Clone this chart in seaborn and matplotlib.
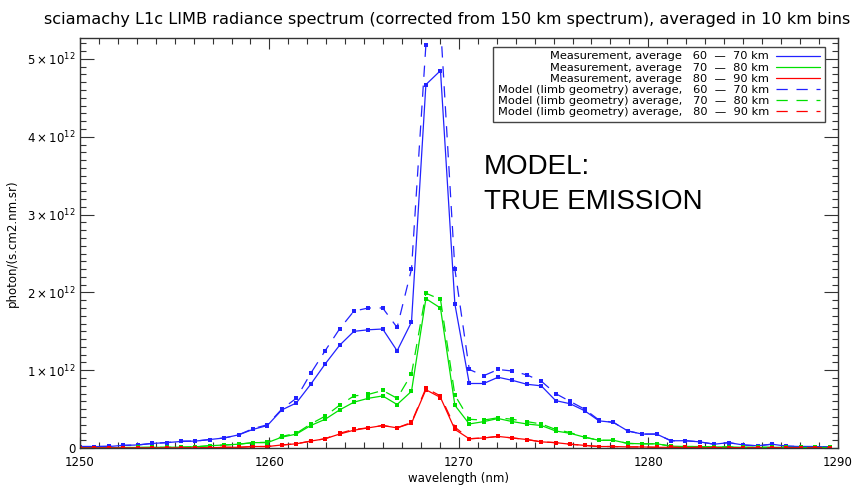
import matplotlib
matplotlib.use("Agg")
import matplotlib.pyplot as plt
import seaborn as sns
import pandas as pd
from matplotlib.ticker import MultipleLocator, FuncFormatter

# wavelength grid (nm)
wavelength = [1250.00, 1250.76, 1251.52, 1252.28, 1253.04, 1253.81, 1254.57, 1255.33, 1256.09, 1256.85,
              1257.61, 1258.37, 1259.13, 1259.89, 1260.65, 1261.42, 1262.18, 1262.94, 1263.70, 1264.46,
              1265.22, 1265.98, 1266.74, 1267.50, 1268.26, 1269.03, 1269.79, 1270.55, 1271.31, 1272.07,
              1272.83, 1273.59, 1274.35, 1275.11, 1275.87, 1276.64, 1277.40, 1278.16, 1278.92, 1279.68,
              1280.44, 1281.20, 1281.96, 1282.72, 1283.48, 1284.25, 1285.01, 1285.77, 1286.53, 1287.29,
              1288.05, 1288.81, 1289.57]

# radiances in units of 1e12 photon/(s.cm2.nm.sr)
meas_60_70 = [0.02, 0.02, 0.02, 0.035, 0.04, 0.06, 0.07, 0.085, 0.09, 0.11,
              0.13, 0.17, 0.24, 0.29, 0.49, 0.58, 0.82, 1.08, 1.32, 1.50,
              1.52, 1.53, 1.25, 1.62, 4.67, 4.85, 1.85, 0.83, 0.83, 0.91,
              0.87, 0.82, 0.80, 0.61, 0.57, 0.48, 0.35, 0.33, 0.22, 0.18,
              0.18, 0.094, 0.095, 0.08, 0.05, 0.07, 0.04, 0.03, 0.05, 0.025,
              0.02, 0.02, 0.015]
meas_70_80 = [0.005, 0.005, 0.005, 0.007, 0.008, 0.01, 0.01, 0.012, 0.017, 0.03,
              0.04, 0.05, 0.07, 0.07, 0.14, 0.18, 0.29, 0.37, 0.49, 0.59,
              0.64, 0.67, 0.56, 0.73, 1.92, 1.80, 0.55, 0.31, 0.34, 0.38,
              0.34, 0.31, 0.29, 0.22, 0.19, 0.14, 0.10, 0.10, 0.06, 0.055,
              0.055, 0.025, 0.02, 0.02, 0.015, 0.015, 0.01, 0.01, 0.01, 0.01,
              0.008, 0.008, 0.008]
meas_80_90 = [0.003, 0.003, 0.003, 0.003, 0.003, 0.003, 0.003, 0.003, 0.004, 0.005,
              0.01, 0.01, 0.02, 0.02, 0.04, 0.055, 0.09, 0.12, 0.18, 0.23,
              0.26, 0.29, 0.26, 0.32, 0.75, 0.65, 0.24, 0.12, 0.13, 0.15,
              0.13, 0.11, 0.08, 0.07, 0.05, 0.035, 0.02, 0.02, 0.015, 0.015,
              0.01, 0.01, 0.008, 0.008, 0.006, 0.006, 0.005, 0.005, 0.005, 0.005,
              0.005, 0.005, 0.005]
model_60_70 = [0.02, 0.02, 0.025, 0.035, 0.04, 0.06, 0.07, 0.09, 0.09, 0.11,
               0.13, 0.17, 0.25, 0.30, 0.50, 0.64, 0.96, 1.25, 1.53, 1.76,
               1.80, 1.80, 1.55, 2.30, 5.18, 5.45, 2.30, 1.01, 0.93, 1.01,
               0.99, 0.94, 0.86, 0.70, 0.60, 0.50, 0.36, 0.33, 0.22, 0.18,
               0.18, 0.094, 0.095, 0.08, 0.05, 0.07, 0.04, 0.03, 0.05, 0.025,
               0.02, 0.02, 0.015]
model_70_80 = [0.005, 0.005, 0.005, 0.007, 0.008, 0.01, 0.01, 0.012, 0.017, 0.03,
               0.04, 0.05, 0.07, 0.075, 0.15, 0.19, 0.31, 0.41, 0.55, 0.67,
               0.69, 0.74, 0.64, 0.95, 1.99, 1.91, 0.68, 0.37, 0.36, 0.39,
               0.37, 0.34, 0.31, 0.24, 0.20, 0.14, 0.10, 0.10, 0.06, 0.055,
               0.055, 0.025, 0.02, 0.02, 0.015, 0.015, 0.01, 0.01, 0.01, 0.01,
               0.008, 0.008, 0.008]
model_80_90 = [0.003, 0.003, 0.003, 0.003, 0.003, 0.003, 0.003, 0.003, 0.004, 0.005,
               0.01, 0.01, 0.02, 0.02, 0.04, 0.055, 0.09, 0.12, 0.19, 0.24,
               0.26, 0.29, 0.26, 0.33, 0.77, 0.67, 0.27, 0.12, 0.13, 0.15,
               0.13, 0.11, 0.08, 0.07, 0.05, 0.035, 0.02, 0.02, 0.015, 0.015,
               0.01, 0.01, 0.008, 0.008, 0.006, 0.006, 0.005, 0.005, 0.005, 0.005,
               0.005, 0.005, 0.005]

labels = ["Measurement, average   60  \u2014  70 km",
          "Measurement, average   70  \u2014  80 km",
          "Measurement, average   80  \u2014  90 km",
          "Model (limb geometry) average,   60  \u2014  70 km",
          "Model (limb geometry) average,   70  \u2014  80 km",
          "Model (limb geometry) average,   80  \u2014  90 km"]
series = [meas_60_70, meas_70_80, meas_80_90, model_60_70, model_70_80, model_80_90]
colors = ["#2222ff", "#00e000", "#ff0000", "#2222ff", "#00e000", "#ff0000"]

sns.set_style("ticks")
plt.rcParams["font.family"] = ["DejaVu Sans"]
plt.rcParams["mathtext.fontset"] = "dejavusans"
plt.rcParams["text.color"] = "black"
plt.rcParams["axes.labelcolor"] = "black"
plt.rcParams["xtick.labelcolor"] = "black"
plt.rcParams["ytick.labelcolor"] = "black"

fig = plt.figure(figsize=(8.63, 4.86), dpi=100)
ax = fig.add_axes([0.0927, 0.078, 0.878, 0.844])

for i, (vals, lab, col) in enumerate(zip(series, labels, colors)):
    df = pd.DataFrame({"wl": wavelength, "rad": [v * 1e12 for v in vals]})
    ls = "-" if i < 3 else (0, (9, 7))
    sns.lineplot(data=df, x="wl", y="rad", ax=ax, color=col, lw=0.9, linestyle=ls,
                 marker="s", markersize=2.6, markeredgewidth=0, label=lab,
                 estimator=None, sort=False)

ax.set_xlim(1250, 1290)
ax.set_ylim(0, 5.27e12)
ax.xaxis.set_major_locator(MultipleLocator(10))
ax.xaxis.set_minor_locator(MultipleLocator(1))
ax.yaxis.set_major_locator(MultipleLocator(1e12))
ax.yaxis.set_minor_locator(MultipleLocator(1e11))


def yfmt(v, pos):
    n = int(round(v / 1e12))
    return "0" if n == 0 else r"$%d\times10^{12}$" % n


ax.yaxis.set_major_formatter(FuncFormatter(yfmt))
ax.tick_params(which="both", direction="in", top=True, right=True, labelsize=8.5,
               color="#333333", width=0.8)
ax.tick_params(axis="x", which="major", length=8, pad=6)
ax.tick_params(axis="x", which="minor", length=4)
ax.tick_params(axis="y", which="major", length=10, pad=3)
ax.tick_params(axis="y", which="minor", length=4.5)
for sp in ax.spines.values():
    sp.set_color("#333333")
    sp.set_linewidth(1)

ax.set_xlabel("wavelength (nm)", fontsize=8.5, labelpad=2)
ax.set_ylabel("photon/(s.cm2.nm.sr)", fontsize=8.5, labelpad=6)
ax.set_title("sciamachy L1c LIMB radiance spectrum (corrected from 150 km spectrum), averaged in 10 km bins",
             fontsize=11.6, pad=10, x=0.484)

leg = ax.legend(loc="upper right", bbox_to_anchor=(0.983, 0.978), borderaxespad=0,
                markerfirst=False, fontsize=8.2, handlelength=3.9, handletextpad=0.6,
                labelspacing=0.1, borderpad=0.4, fancybox=False, framealpha=1,
                edgecolor="#444444")
leg.get_frame().set_linewidth(1)
for h in leg.get_lines():
    h.set_marker("")

ax.text(0.533, 0.718, "MODEL:\nTRUE EMISSION", transform=ax.transAxes, ha="left", va="top",
        fontsize=20, family=["Liberation Sans"], linespacing=1.45, color="black")

fig.savefig("out.png", dpi=100)
